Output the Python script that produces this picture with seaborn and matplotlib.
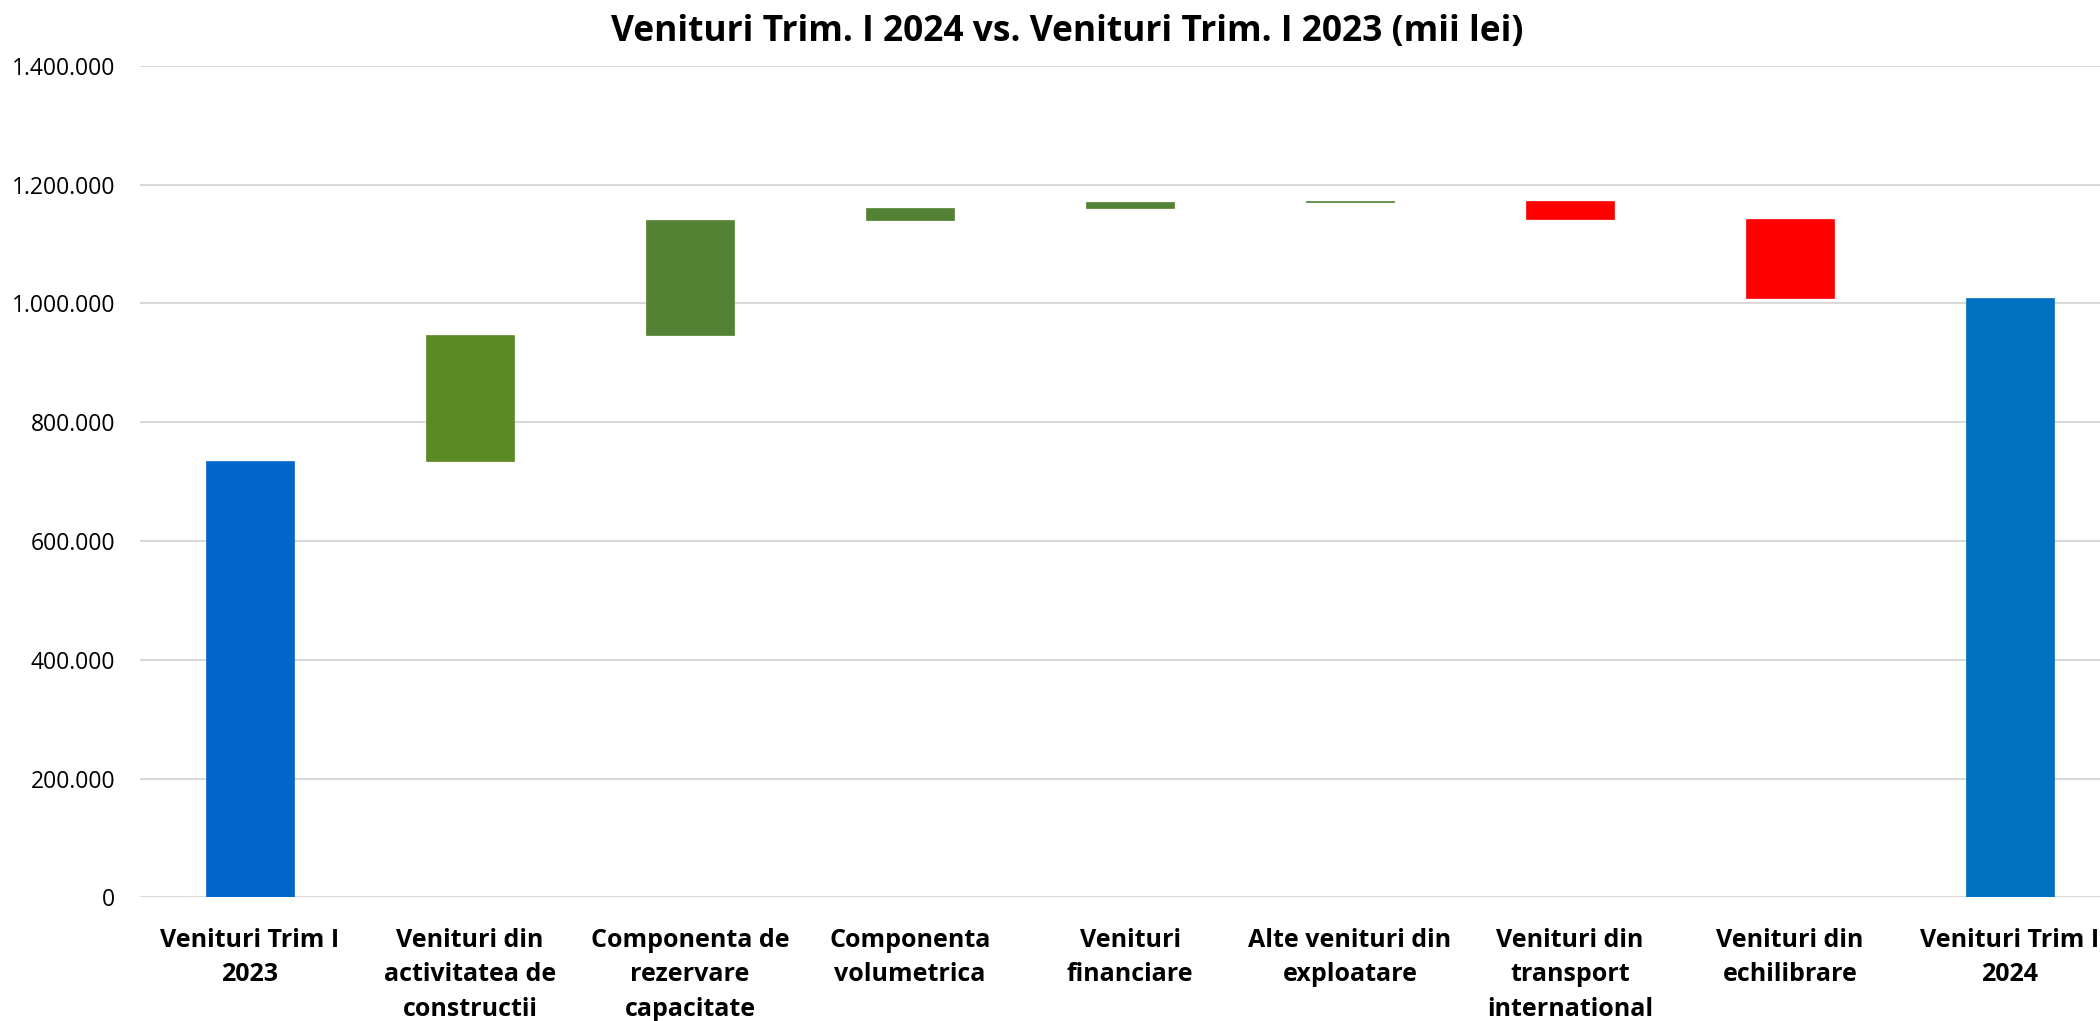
import matplotlib
matplotlib.use("Agg")
import matplotlib.pyplot as plt
import seaborn as sns
import numpy as np
from matplotlib.ticker import FuncFormatter

# waterfall data (mii lei)
categories = ["Venituri Trim I\n2023", "Venituri din\nactivitatea de\nconstructii",
              "Componenta de\nrezervare\ncapacitate", "Componenta\nvolumetrica",
              "Venituri\nfinanciare", "Alte venituri din\nexploatare",
              "Venituri din\ntransport\ninternational", "Venituri din\nechilibrare",
              "Venituri Trim I\n2024"]
start_total = 735000
deltas = [212000, 194000, 20000, 10000, 1000, -29000, -134000]
end_total = 1009000
bar_colors = ["#0066CC", "#5B8A25", "#548235", "#548235", "#548235", "#548235",
              "#FF0000", "#FF0000", "#0070C0"]

# bottoms / heights for the floating bars
levels = np.concatenate([[start_total], start_total + np.cumsum(deltas)])
bottoms = [0]
heights = [start_total]
for i, d in enumerate(deltas):
    bottoms.append(min(levels[i], levels[i + 1]))
    heights.append(abs(d))
bottoms.append(0)
heights.append(end_total)

sns.set_style("white")
plt.rcParams['font.family'] = ['Open Sans', 'DejaVu Sans']
plt.rcParams['text.color'] = 'black'
plt.rcParams['xtick.color'] = 'black'
plt.rcParams['ytick.color'] = 'black'

fig = plt.figure(figsize=(21, 10.21), dpi=100)
ax = fig.add_axes([140 / 2100, 0.1211, 1980 / 2100, 0.8143])

sns.barplot(x=categories, y=heights, bottom=bottoms, color="#548235",
            width=0.4, saturation=1, ax=ax)
for p, c in zip(ax.patches, bar_colors):
    p.set_facecolor(c)
    p.set_edgecolor(c)
    p.set_linewidth(0.5)

ax.set_xlim(-0.5, 8.5)
ax.set_ylim(0, 1400000)
ax.set_yticks(np.arange(0, 1400001, 200000))
ax.yaxis.set_major_formatter(FuncFormatter(lambda v, _: f"{int(v):,}".replace(",", ".")))
ax.yaxis.grid(True, color="#D9D9D9", linewidth=1.5)
ax.set_axisbelow(True)
for s in ax.spines.values():
    s.set_visible(False)
ax.tick_params(axis="y", length=0, labelsize=16.5, pad=18)
ax.tick_params(axis="x", length=0, labelsize=18, pad=22)
for lbl in ax.get_xticklabels():
    lbl.set_fontweight("bold")
    lbl.set_linespacing(1.5)
    lbl.set_verticalalignment("top")

fig.suptitle("Venituri Trim. I 2024 vs. Venituri Trim. I 2023 (mii lei)",
             x=0.508, y=0.986, fontsize=25.5, fontweight="bold")

fig.savefig("out.png", dpi=100)
